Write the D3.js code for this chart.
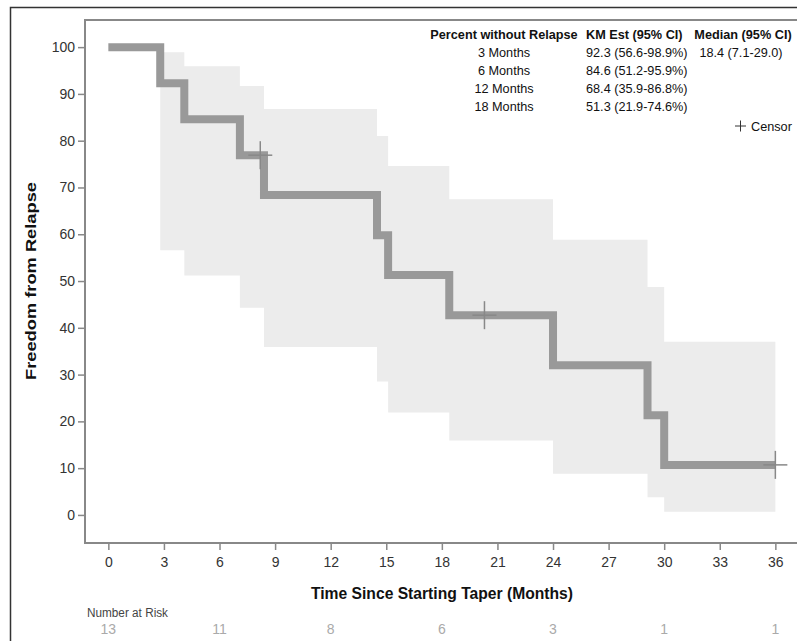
<!DOCTYPE html>
<html>
<head>
<meta charset="utf-8">
<script src="https://cdn.jsdelivr.net/npm/d3@7"></script>
<style>
body { margin: 0; background: #fff; }
svg text { font-family: Arial, "Liberation Sans", sans-serif; }
</style>
</head>
<body>
<div id="chart"></div>
<script>
// KM step data
var times = [0, 2.8, 4.1, 7.1, 8.4, 14.5, 15.1, 18.4, 24.0, 29.1, 30.0, 36.0];
var surv  = [100, 92.3, 84.6, 76.9, 68.4, 59.8, 51.3, 42.7, 32.0, 21.3, 10.7, 10.7];
var lower = [100, 56.6, 51.2, 44.3, 35.9, 28.5, 21.9, 15.9, 8.8, 3.8, 0.7, 0.7];
var upper = [100, 98.9, 95.9, 91.7, 86.8, 81.0, 74.6, 67.5, 58.8, 48.7, 37.0, 37.0];
var censorTimes = [8.2, 20.3, 36];

var xTicks = [0, 3, 6, 9, 12, 15, 18, 21, 24, 27, 30, 33, 36];
var yTicks = [0, 10, 20, 30, 40, 50, 60, 70, 80, 90, 100];

var riskTimes = [0, 6, 12, 18, 24, 30, 36];
var riskCounts = [13, 11, 8, 6, 3, 1, 1];

var tableHead = ["Percent without Relapse", "KM Est (95% CI)", "Median (95% CI)"];
var tableRows = ["3 Months", "6 Months", "12 Months", "18 Months"];
var tableKm = ["92.3 (56.6-98.9%)", "84.6 (51.2-95.9%)", "68.4 (35.9-86.8%)", "51.3 (21.9-74.6%)"];
var tableMedian = ["18.4 (7.1-29.0)"];

var W = 797, H = 641;
var margin = {top: 20, right: 0, bottom: 98, left: 85},
    width = 800 - margin.left,
    height = 543 - margin.top;

var svg0 = d3.select("#chart").append("svg")
    .attr("width", W)
    .attr("height", H);

// outer frame
svg0.append("path")
    .attr("d", "M10.5," + H + "V7.5H" + W)
    .attr("fill", "none")
    .attr("stroke", "#333")
    .attr("stroke-width", 1.5);

var svg = svg0.append("g")
    .attr("transform", "translate(" + margin.left + "," + margin.top + ")");

var x = d3.scaleLinear().domain([-1.26, 37.33]).range([0, width]);
var y = d3.scaleLinear().domain([-6, 105.8]).range([height, 0]);

var pts = times.map(function(t, i) {
    return {t: t, s: surv[i], lo: lower[i], hi: upper[i]};
});

// confidence band
var band = d3.area()
    .curve(d3.curveStepAfter)
    .x(function(d) { return x(d.t); })
    .y0(function(d) { return y(d.lo); })
    .y1(function(d) { return y(d.hi); });

svg.append("path")
    .datum(pts)
    .attr("fill", "#ececec")
    .attr("d", band);

// survival step line
var line = d3.line()
    .curve(d3.curveStepAfter)
    .x(function(d) { return x(d.t); })
    .y(function(d) { return y(d.s); });

svg.append("path")
    .datum(pts)
    .attr("fill", "none")
    .attr("stroke", "#999")
    .attr("stroke-width", 8)
    .attr("stroke-linejoin", "miter")
    .attr("d", line);

// censor marks
function survAt(t) {
    var s = surv[0];
    times.forEach(function(tt, i) { if (tt <= t) s = surv[i]; });
    return s;
}
var cg = svg.selectAll(".censor").data(censorTimes).enter().append("g")
    .attr("transform", function(d) { return "translate(" + x(d) + "," + y(survAt(d)) + ")"; });
cg.append("line").attr("x1", 0).attr("x2", 0).attr("y1", -14).attr("y2", 14);
cg.append("line").attr("x1", -12).attr("x2", 12).attr("y1", 0).attr("y2", 0);
cg.selectAll("line").attr("stroke", "#888").attr("stroke-width", 1.5);

// plot frame
svg.append("path")
    .attr("d", "M" + width + ",0H0V" + height + "H" + width)
    .attr("fill", "none")
    .attr("stroke", "#888")
    .attr("stroke-width", 2);

// axes
var xAxis = svg.append("g")
    .attr("transform", "translate(0," + height + ")")
    .call(d3.axisBottom(x).tickValues(xTicks).tickSize(7).tickPadding(7));
var yAxis = svg.append("g")
    .call(d3.axisLeft(y).tickValues(yTicks).tickSize(7).tickPadding(3));
[xAxis, yAxis].forEach(function(a) {
    a.select(".domain").remove();
    a.selectAll(".tick line").attr("stroke", "#888").attr("stroke-width", 1.5);
    a.selectAll(".tick text")
        .attr("fill", "#333")
        .style("font-size", "14px")
        .style("font-family", "Arial, 'Liberation Sans', sans-serif");
});

// axis titles
svg0.append("text")
    .attr("x", 442).attr("y", 599)
    .attr("text-anchor", "middle")
    .attr("textLength", 262).attr("lengthAdjust", "spacingAndGlyphs")
    .style("font-size", "17px").style("font-weight", "bold").attr("fill", "#111")
    .text("Time Since Starting Taper (Months)");

svg0.append("text")
    .attr("transform", "translate(36,281) rotate(-90)")
    .attr("text-anchor", "middle")
    .attr("textLength", 198).attr("lengthAdjust", "spacingAndGlyphs")
    .style("font-size", "14.5px").style("font-weight", "bold").attr("fill", "#111")
    .text("Freedom from Relapse");

// number at risk
svg0.append("text")
    .attr("x", 87).attr("y", 617)
    .attr("textLength", 81).attr("lengthAdjust", "spacingAndGlyphs")
    .style("font-size", "12.5px").attr("fill", "#444")
    .text("Number at Risk");

svg.selectAll(".risk").data(riskTimes).enter().append("text")
    .attr("x", function(d) { return x(d); })
    .attr("y", 634 - margin.top)
    .attr("text-anchor", "middle")
    .style("font-size", "14px").attr("fill", "#aaa")
    .text(function(d, i) { return riskCounts[i]; });

// inset table
var tb = svg0.append("g");
var headX = [504, 586, 743], headAnchor = ["middle", "start", "middle"];
tableHead.forEach(function(h, i) {
    tb.append("text").attr("x", headX[i]).attr("y", 39)
        .attr("text-anchor", headAnchor[i])
        .style("font-size", "12.7px").style("font-weight", "bold").attr("fill", "#111")
        .text(h);
});
tableRows.forEach(function(r, i) {
    var yy = 57 + i * 18;
    tb.append("text").attr("x", 504).attr("y", yy).attr("text-anchor", "middle")
        .style("font-size", "12.7px").attr("fill", "#111").text(r);
    tb.append("text").attr("x", 586).attr("y", yy).attr("text-anchor", "start")
        .style("font-size", "12.7px").attr("fill", "#111").text(tableKm[i]);
    if (tableMedian[i]) {
        tb.append("text").attr("x", 741).attr("y", yy).attr("text-anchor", "middle")
            .style("font-size", "12.7px").attr("fill", "#111").text(tableMedian[i]);
    }
});

// censor legend
svg0.append("path")
    .attr("d", "M735,126H746M740.5,120.5V131.5")
    .attr("stroke", "#333").attr("stroke-width", 1);
svg0.append("text").attr("x", 751).attr("y", 131)
    .style("font-size", "12.7px").attr("fill", "#111").text("Censor");
</script>
</body>
</html>
